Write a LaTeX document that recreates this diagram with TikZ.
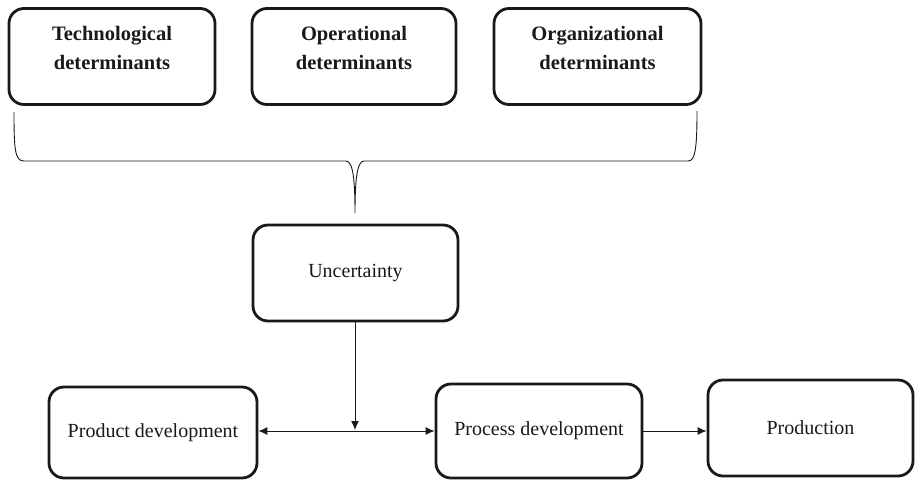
\documentclass[tikz,border=0pt]{standalone}
\usepackage{fontspec}
\setmainfont{Liberation Serif}
\usetikzlibrary{arrows.meta}
\begin{document}
\begin{tikzpicture}[x=1pt,y=-1pt,
  box/.style={draw=black!90, line width=2.8pt, rounded corners=15pt, minimum height=96pt, inner sep=0pt},
  toptext/.style={font=\fontsize{20.5}{29}\selectfont\bfseries, align=center, text=black!90},
  plain/.style={font=\fontsize{20}{24}\selectfont, text=black!90},
  conn/.style={draw=black!90, line width=1pt},
  tip/.style={-{Latex[length=9pt,width=8pt]}}
]
\useasboundingbox (0,0) rectangle (917,482);
% top boxes
\node[box, minimum width=206pt] (tech) at (112,56.5) {};
\node[box, minimum width=204pt] (oper) at (354,56.5) {};
\node[box, minimum width=207pt] (orga) at (597.5,56.5) {};
\node[toptext] (techt) at ([yshift=9pt]tech.center) {Technological\\determinants};
\node[toptext] (opert) at ([yshift=9pt]oper.center) {Operational\\determinants};
\node[toptext] (orgat) at ([yshift=9pt]orga.center) {Organizational\\determinants};
% uncertainty
\node[box, plain, minimum width=205pt] (unc) at (355.5,273) {Uncertainty};
% bottom row
\node[box, plain, minimum width=208pt, minimum height=91pt] (prod) at (153,432.5) {Product development};
\node[box, plain, minimum width=206pt, minimum height=94pt] (proc) at (539,431) {Process development};
\node[box, plain, minimum width=205pt] (pron) at (810.5,428) {Production};
% brace
\coordinate (bl) at (14,112);
\coordinate (br) at (697,111);
\coordinate (btip) at (355,213);
\draw[conn, line width=0.9pt] (bl) .. controls (14,150) and (15,161) .. (24,161) -- (346,161)
  .. controls (353,161) and (355,180) .. (btip)
  .. controls (355,180) and (357,161) .. (364,161) -- (688,161)
  .. controls (695,161) and (697,150) .. (br);
% arrows
\coordinate (meet) at (355,430);
\draw[conn, tip] (unc.south -| meet) -- (meet);
\draw[conn, {Latex[length=9pt,width=8pt]}-{Latex[length=9pt,width=8pt]}] (proc.west -| prod.east) -- (proc.west);
\draw[conn, tip] (proc.east) -- (proc.east -| pron.west);
\end{tikzpicture}
\end{document}
